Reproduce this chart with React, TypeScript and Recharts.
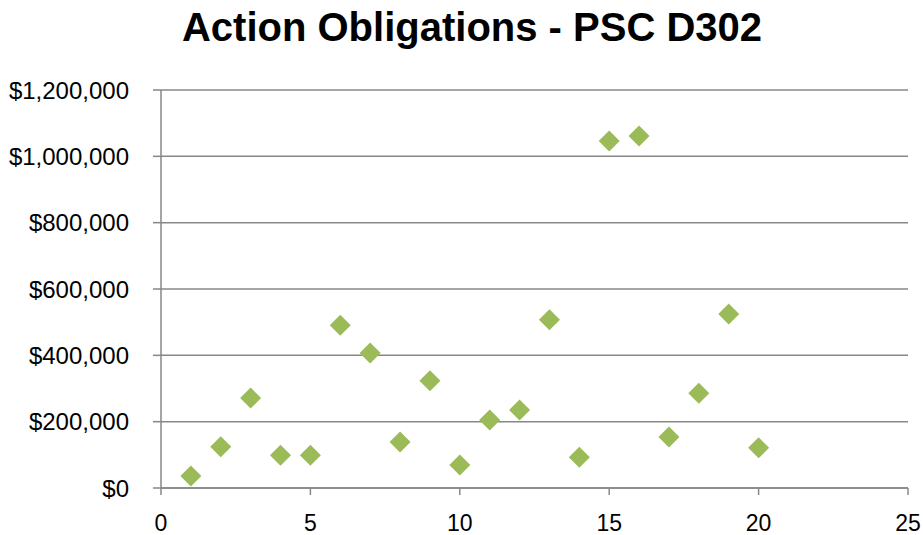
import React from 'react'
import { ScatterChart, Scatter, XAxis, YAxis, CartesianGrid } from 'recharts'

const xValues = [1, 2, 3, 4, 5, 6, 7, 8, 9, 10, 11, 12, 13, 14, 15, 16, 17, 18, 19, 20]
const obligations = [
  36000, 124000, 271000, 99000, 99000, 491000, 407000, 139000, 323000, 69000,
  205000, 235000, 507000, 93000, 1046000, 1061000, 154000, 286000, 525000, 121000,
]
const yTicks = [0, 200000, 400000, 600000, 800000, 1000000, 1200000]
const xTicks = [0, 5, 10, 15, 20, 25]

const data = xValues.map((x, i) => ({ x, y: obligations[i] }))

const fmtMoney = (v: number) => '$' + v.toLocaleString('en-US')

const Diamond = (props: any) => {
  const { cx, cy } = props
  const r = 10.5
  return (
    <polygon
      points={`${cx},${cy - r} ${cx + r},${cy} ${cx},${cy + r} ${cx - r},${cy}`}
      fill="#9bbb59"
    />
  )
}

const font = '"Liberation Sans", Arial, sans-serif'

export default function App() {
  return (
    <div style={{ position: 'fixed', left: 0, top: 0, width: 923, height: 535, background: '#fff' }}>
      <div style={{
        position: 'absolute', left: 0, top: 5, width: 944, textAlign: 'center',
        fontFamily: font, fontWeight: 'bold', fontSize: 40, color: '#000',
      }}>
        Action Obligations - PSC D302
      </div>
      <ScatterChart width={923} height={535} margin={{ top: 90, right: 15, bottom: 0, left: 0 }}>
        <CartesianGrid vertical={false} stroke="#878787" strokeWidth={1.5} />
        <XAxis
          type="number"
          dataKey="x"
          domain={[0, 25]}
          ticks={xTicks}
          height={47}
          stroke="#878787"
          strokeWidth={1.5}
          tickSize={7}
          tickMargin={20}
          tick={{ fill: '#000', fontSize: 23, fontFamily: font }}
          interval={0}
        />
        <YAxis
          type="number"
          dataKey="y"
          domain={[0, 1200000]}
          ticks={yTicks}
          width={161}
          stroke="#878787"
          strokeWidth={1.5}
          tickSize={8}
          tickMargin={24}
          tickFormatter={fmtMoney}
          tick={{ fill: '#000', fontSize: 24, fontFamily: font }}
          interval={0}
        />
        <Scatter data={data} shape={Diamond} isAnimationActive={false} />
      </ScatterChart>
    </div>
  )
}
